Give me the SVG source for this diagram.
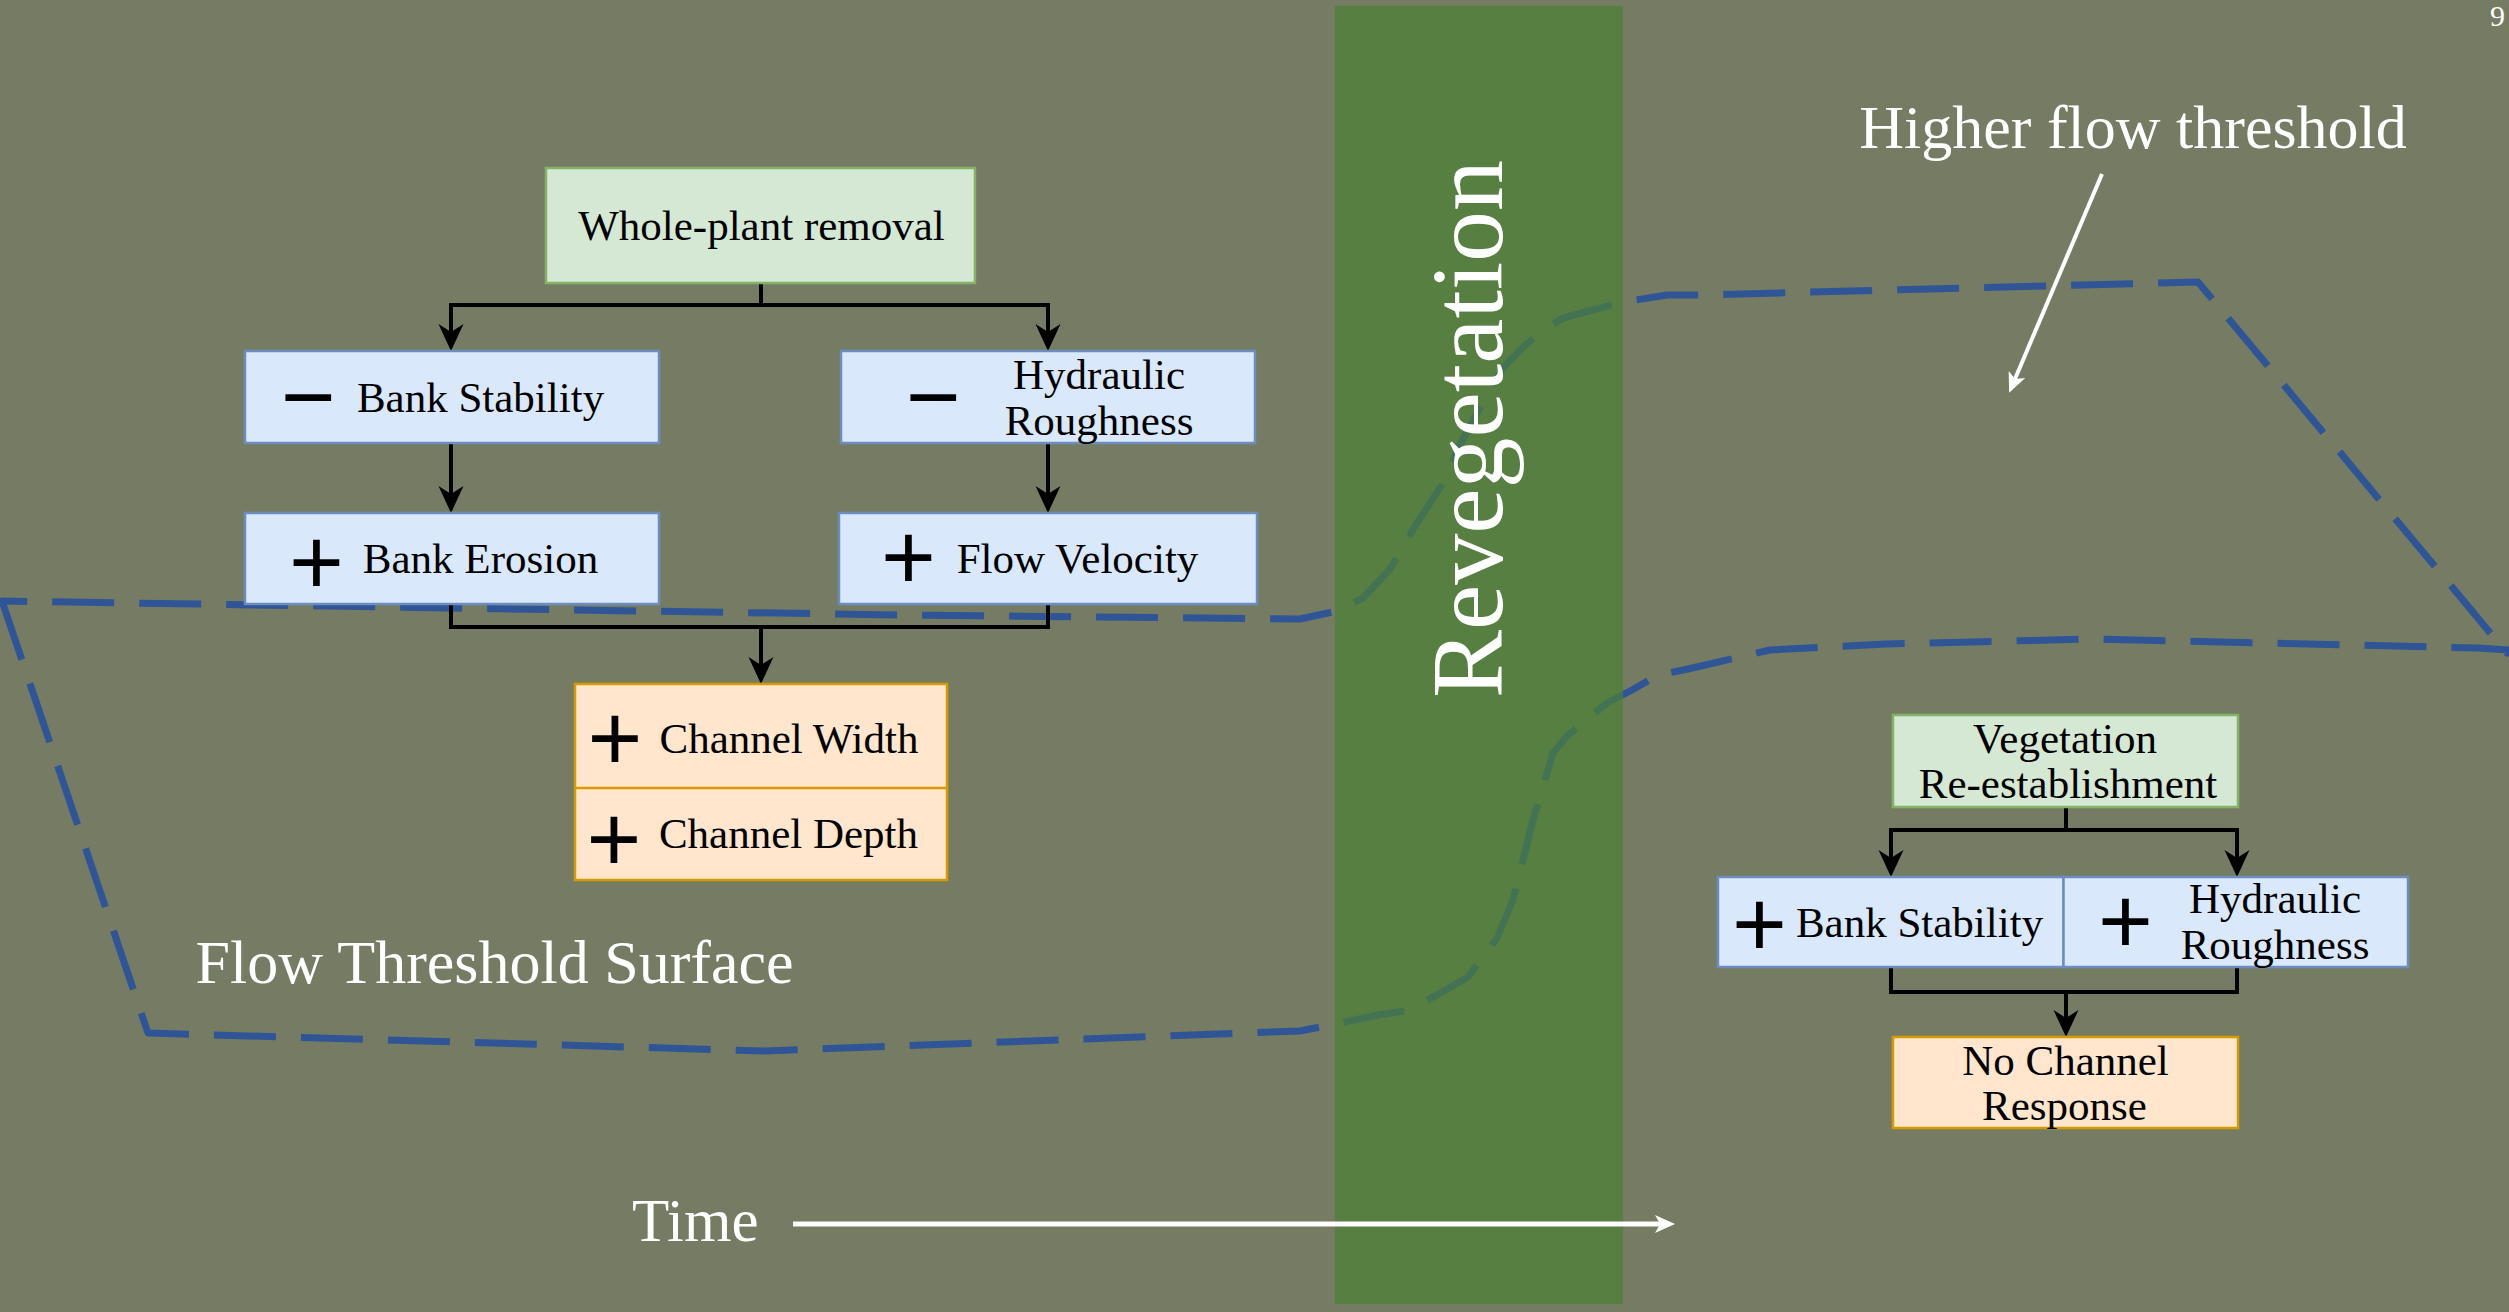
<svg xmlns="http://www.w3.org/2000/svg" width="2509" height="1312" viewBox="0 0 2509 1312">
<style>
.lbl{font-family:"Liberation Serif","Times New Roman",serif;font-size:43px;fill:#000;text-anchor:middle}
.sym{font-family:"Liberation Sans",Arial,sans-serif;font-size:94px;fill:#000;text-anchor:middle}
.wht{font-family:"Liberation Serif","Times New Roman",serif;fill:#fff}
.blue{fill:#dae8fc;stroke:#6c8ebf;stroke-width:2.5}
.green{fill:#d5e8d4;stroke:#82b366;stroke-width:2.5}
.orange{fill:#ffe6cc;stroke:#d79b00;stroke-width:2.5}
.conn{fill:none;stroke:#000;stroke-width:4}
.surf{fill:none;stroke:#2f5597;stroke-width:7;stroke-dasharray:62 25;stroke-linejoin:round}
</style>
<defs>
<marker id="ah" markerUnits="userSpaceOnUse" markerWidth="30" markerHeight="30" viewBox="-1 -14 30 28" refX="8" refY="0" orient="auto">
<path d="M27,0 L0,-12.5 L8,0 L0,12.5 Z" fill="#000"/>
</marker>
<marker id="wh" markerUnits="userSpaceOnUse" markerWidth="24" markerHeight="24" viewBox="-1 -11 24 22" refX="5" refY="0" orient="auto">
<path d="M20,0 L0,-9 L5,0 L0,9 Z" fill="#fff"/>
</marker>
</defs>
<rect x="0" y="0" width="2509" height="1312" fill="#757c63"/>

<g id="flow-threshold-surface">
<path class="surf" d="M2,601 L148,1033 L765,1051 L1300,1031 L1340,1023 L1378,1015 L1405,1011 L1437,995 L1468,977 L1497,938 L1513,900 L1533,820 L1553,753 L1567,736 L1607,703 L1632,690 L1658,675 L1688,669 L1770,650 L1886,644 L2092,639 L2478,648 L2509,650 L2507,653 L2198,282 L1700,295 L1667,295 L1623,302 L1563,318 L1543,330 L1520,350 L1503,368 L1487,395 L1457,450 L1447,477 L1417,523 L1390,569 L1363,598 L1337,611 L1300,619 L900,615 Z"/>
</g>

<g id="revegetation">
<rect x="1335" y="6" width="288" height="1298" fill="#4c8034" fill-opacity="0.7"/>
<text class="wht" font-size="102" text-anchor="middle" transform="translate(1502,429) rotate(-90)">Revegetation</text>
</g>

<g id="connectors">
<path class="conn" d="M761,283 V305 H451 V332" marker-end="url(#ah)"/>
<path class="conn" d="M761,305 H1048 V332" marker-end="url(#ah)"/>
<path class="conn" d="M451,443 V494" marker-end="url(#ah)"/>
<path class="conn" d="M1048,443 V494" marker-end="url(#ah)"/>
<path class="conn" d="M451,604 V627 H1048 V604"/>
<path class="conn" d="M761,627 V665" marker-end="url(#ah)"/>
<path class="conn" d="M2066,807 V830 H1891 V858" marker-end="url(#ah)"/>
<path class="conn" d="M2066,830 H2237 V858" marker-end="url(#ah)"/>
<path class="conn" d="M1891,967 V992 H2237 V967"/>
<path class="conn" d="M2066,992 V1018" marker-end="url(#ah)"/>
<path d="M793,1224 H1660" stroke="#fff" stroke-width="5" fill="none" marker-end="url(#wh)"/>
<path d="M2102,174 L2015,379" stroke="#fff" stroke-width="4" fill="none" marker-end="url(#wh)"/>
</g>

<g id="whole-plant-removal">
<rect class="green" x="546" y="168" width="429" height="115"/>
<text class="lbl" x="761.5" y="240">Whole-plant removal</text>
</g>
<g id="bank-stability-minus">
<rect class="blue" x="245" y="351" width="414" height="92"/>
<text class="sym" font-size="90" x="308.5" y="429">−</text>
<text class="lbl" x="480.5" y="412">Bank Stability</text>
</g>
<g id="hydraulic-roughness-minus">
<rect class="blue" x="841" y="351" width="414" height="92"/>
<text class="sym" font-size="90" x="933.5" y="429">−</text>
<text class="lbl" x="1099" y="389">Hydraulic</text>
<text class="lbl" x="1099" y="435">Roughness</text>
</g>
<g id="bank-erosion-plus">
<rect class="blue" x="245" y="513" width="414" height="91"/>
<text class="sym" x="316.5" y="594">+</text>
<text class="lbl" x="480.5" y="573">Bank Erosion</text>
</g>
<g id="flow-velocity-plus">
<rect class="blue" x="839" y="513" width="418" height="91"/>
<text class="sym" x="908.5" y="589">+</text>
<text class="lbl" x="1077.5" y="573">Flow Velocity</text>
</g>
<g id="channel-width-depth">
<rect class="orange" x="575" y="684" width="372" height="196"/>
<line x1="575" y1="788" x2="947" y2="788" stroke="#d79b00" stroke-width="2.5"/>
<text class="sym" x="615" y="770">+</text>
<text class="lbl" x="789" y="753">Channel Width</text>
<text class="sym" x="614" y="871">+</text>
<text class="lbl" x="788.5" y="848">Channel Depth</text>
</g>

<g id="vegetation-reestablishment">
<rect class="green" x="1893" y="715" width="345" height="92"/>
<text class="lbl" x="2065" y="753">Vegetation</text>
<text class="lbl" x="2068" y="798">Re-establishment</text>
</g>
<g id="bank-stability-plus">
<rect class="blue" x="1718" y="877" width="345.5" height="90"/>
<text class="sym" x="1759.5" y="956">+</text>
<text class="lbl" x="1919.5" y="937">Bank Stability</text>
</g>
<g id="hydraulic-roughness-plus">
<rect class="blue" x="2063.5" y="877" width="344.5" height="90"/>
<text class="sym" x="2125.5" y="953">+</text>
<text class="lbl" x="2275" y="913">Hydraulic</text>
<text class="lbl" x="2275" y="959">Roughness</text>
</g>
<g id="no-channel-response">
<rect class="orange" x="1893" y="1037" width="345" height="91"/>
<text class="lbl" x="2065.5" y="1075">No Channel</text>
<text class="lbl" x="2064.5" y="1120">Response</text>
</g>

<g id="labels">
<text class="wht" font-size="62" text-anchor="middle" x="494.5" y="983">Flow Threshold Surface</text>
<text class="wht" font-size="62" text-anchor="middle" x="2133" y="148">Higher flow threshold</text>
<text class="wht" font-size="61" x="632" y="1241">Time</text>
<text class="wht" font-size="30" x="2490" y="26" fill="#e6e6e6">9</text>
</g>
</svg>
